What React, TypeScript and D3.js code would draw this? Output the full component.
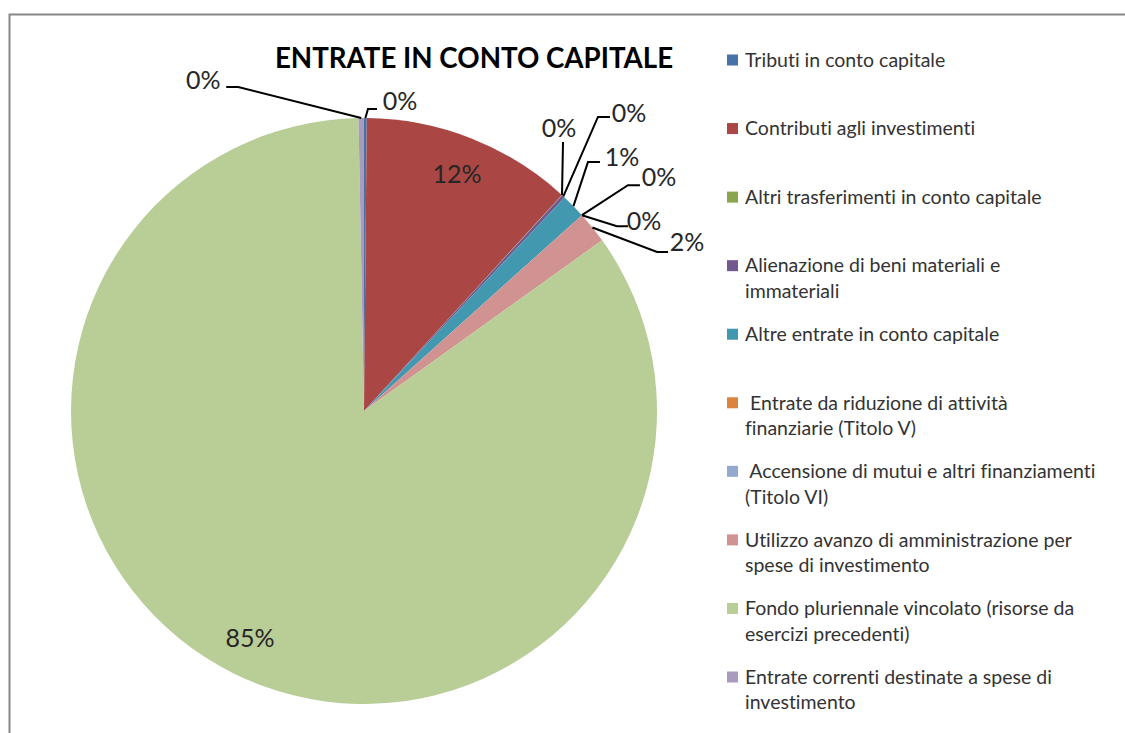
import React from "react";
import * as d3 from "d3";

// categories in the order of the slices (clockwise from 12 o'clock)
const categories = [
  "Tributi in conto capitale",
  "Contributi agli investimenti",
  "Altri trasferimenti in conto capitale",
  "Alienazione di beni materiali e\nimmateriali",
  "Altre entrate in conto capitale",
  " Entrate da riduzione di attività\nfinanziarie (Titolo V)",
  " Accensione di mutui e altri finanziamenti\n(Titolo VI)",
  "Utilizzo avanzo di amministrazione per\nspese di investimento",
  "Fondo pluriennale vincolato (risorse da\nesercizi precedenti)",
  "Entrate correnti destinate a spese di\ninvestimento",
];

// share of the total
const values = [0.15, 11.65, 0.02, 0.18, 1.35, 0, 0, 1.75, 84.6, 0.3];

const colors = [
  "#4572A7",
  "#AA4643",
  "#89A54E",
  "#71588F",
  "#4198AF",
  "#DB843D",
  "#93A9CF",
  "#D19392",
  "#B9CD96",
  "#A99BBD",
];

const title = "ENTRATE IN CONTO CAPITALE";

// label placement: inside labels sit on the mid angle, outside ones get a leader line
// offsets are relative to the point where the leader touches the slice
const labelLayout: any[] = [
  { text: [34.6, -17], line: [[2.6, -9], [11.6, -9]] },
  { inside: true },
  { text: [-3, -67], line: [[1, -53]] },
  { text: [65.6, -83.4], line: [[34.6, -79.4], [46.6, -79.4]] },
  { text: [48.5, -49], line: [[14.5, -44], [26.5, -44]] },
  { text: [77, -38], line: [[46, -30], [58, -30]] },
  { text: [62, 6], line: [[35, 11], [46, 11]] },
  { text: [94.7, 14.5], line: [[64.7, 24.5], [75.7, 24.5]] },
  { inside: true },
  { text: [-158, -38], line: [[-123, -31], [-135, -31]] },
];

const W = 1125;
const H = 733;
const cx = 364;
const cy = 411;
const R = 293;
const FONT = "Lato, 'Open Sans', sans-serif";

export default function App() {
  const total = d3.sum(values);
  const pie = d3
    .pie<number>()
    .sort(null)
    .value((d) => d);
  const arcs = pie(values);

  const arc = d3.arc<d3.PieArcDatum<number>>().innerRadius(0).outerRadius(R);
  const edgeArc = d3.arc<d3.PieArcDatum<number>>().innerRadius(R).outerRadius(R);
  const insideArc = d3
    .arc<d3.PieArcDatum<number>>()
    .innerRadius(254)
    .outerRadius(254);

  const pct = d3.format(".0%");

  const legendX = 727;
  const legendY = d3
    .scaleLinear()
    .domain([0, categories.length - 1])
    .range([60, 677]);

  return (
    <svg
      width={W}
      height={H}
      style={{
        position: "absolute",
        left: 0,
        top: 0,
        background: "#fff",
        fontVariantLigatures: "none",
      }}
    >
      <rect
        x={9.5}
        y={14.5}
        width={W + 20}
        height={H + 20}
        fill="#fff"
        stroke="#868686"
        strokeWidth={2}
      />

      <text
        x={474}
        y={68}
        textAnchor="middle"
        fontFamily={FONT}
        fontWeight="bold"
        fontSize={27.7}
        fill="#000"
      >
        {title}
      </text>

      <g transform={`translate(${cx},${cy})`}>
        {arcs.map((a, i) => (
          <path key={i} d={arc(a) || ""} fill={colors[i]} />
        ))}

        {arcs.map((a, i) => {
          const lay = labelLayout[i];
          const label = pct(Math.round((a.data / total) * 100) / 100);
          if (lay.inside) {
            const [x, y] = insideArc.centroid(a);
            return (
              <text
                key={i}
                x={x}
                y={y}
                dy="0.35em"
                textAnchor="middle"
                fontFamily={FONT}
                fontSize={25}
                fill="#262626"
              >
                {label}
              </text>
            );
          }
          const [ax, ay] = edgeArc.centroid(a);
          const pts = [[ax, ay], ...lay.line.map((p: number[]) => [ax + p[0], ay + p[1]])];
          return (
            <g key={i}>
              <path
                d={d3.line()(pts as [number, number][]) || ""}
                fill="none"
                stroke="#000"
                strokeWidth={2}
              />
              <text
                x={ax + lay.text[0]}
                y={ay + lay.text[1]}
                dy="0.35em"
                textAnchor="middle"
                fontFamily={FONT}
                fontSize={25}
                fill="#262626"
              >
                {label}
              </text>
            </g>
          );
        })}
      </g>

      <g>
        {categories.map((c, i) => {
          const y0 = legendY(i);
          const lines = c.split("\n");
          return (
            <g key={i}>
              <rect x={legendX} y={y0 - 5.5} width={11} height={11} fill={colors[i]} />
              <text
                fontFamily={FONT}
                fontSize={19.5}
                fill="#333"
                style={{ whiteSpace: "pre" }}
              >
                {lines.map((l, j) => (
                  <tspan key={j} x={legendX + 18} y={y0 + j * 25.5} dy="0.35em">
                    {l}
                  </tspan>
                ))}
              </text>
            </g>
          );
        })}
      </g>
    </svg>
  );
}
